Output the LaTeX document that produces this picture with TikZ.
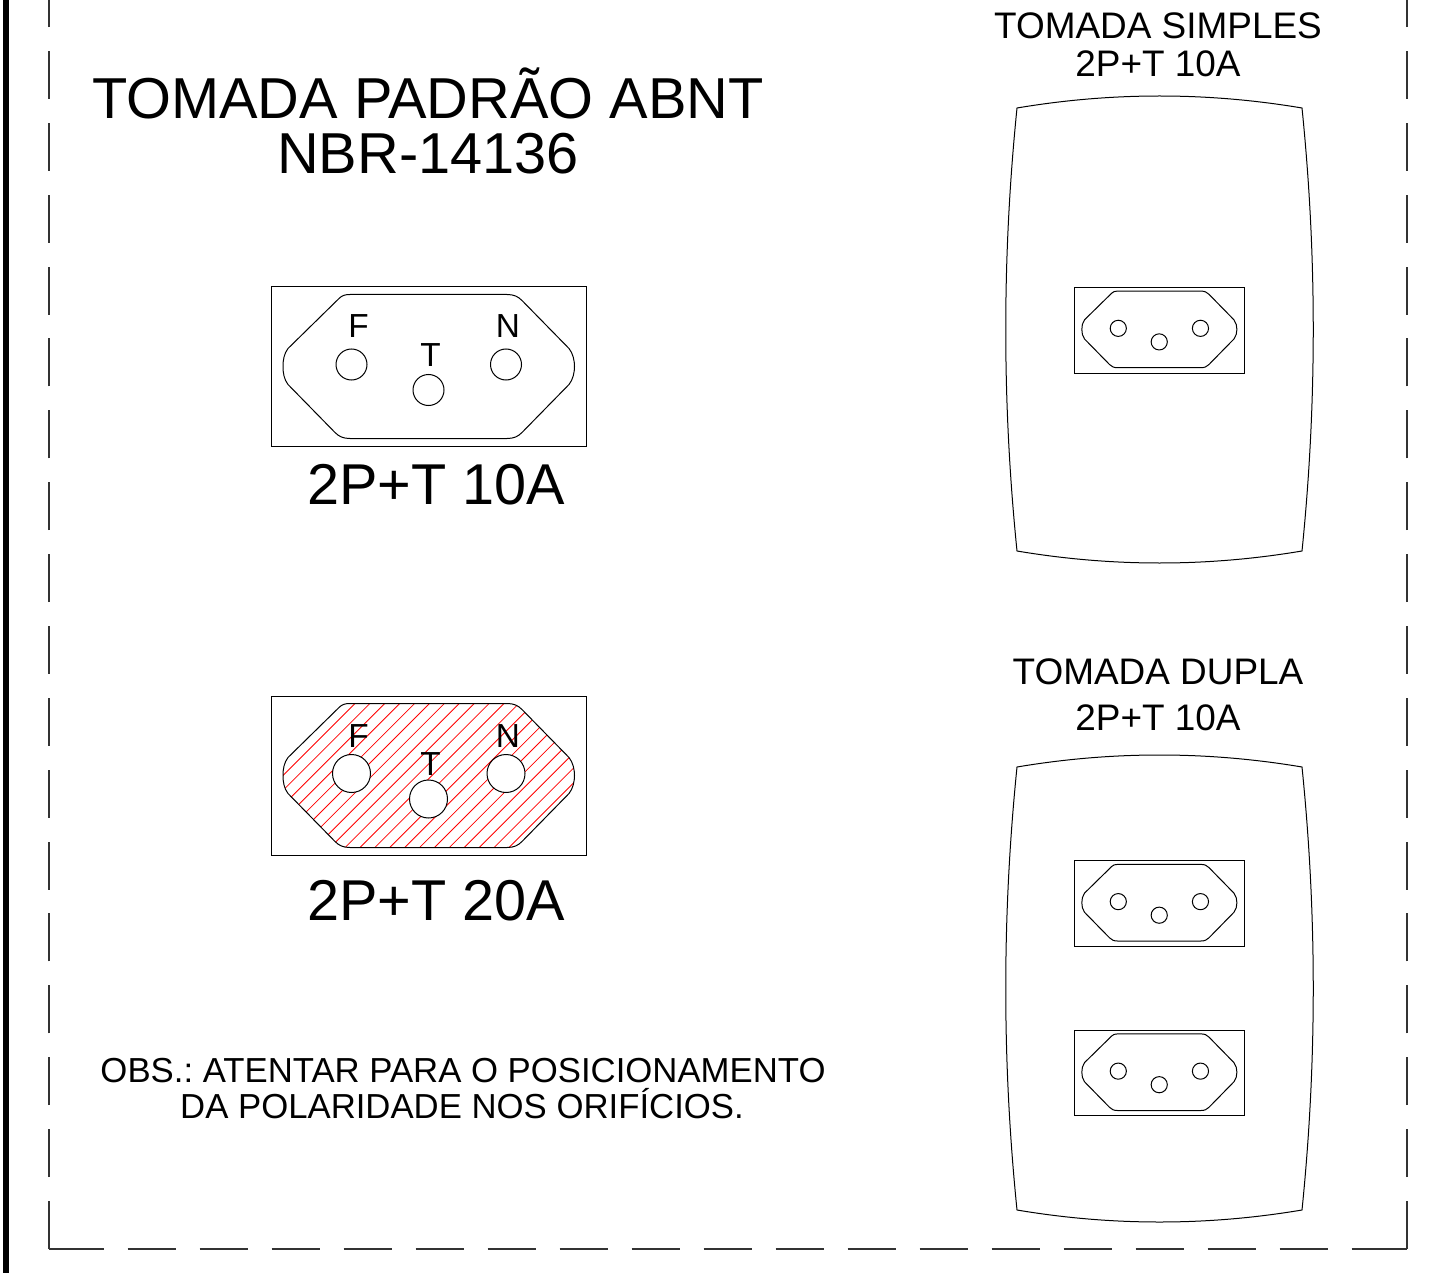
\documentclass[tikz,border=0pt]{standalone}
\usepackage{fontspec}
\setmainfont{Liberation Sans}
\frenchspacing
\newcommand{\fs}[1]{\fontsize{#1}{#1}\selectfont}
\newcommand{\socketpath}{
  (-79,-72) -- (78,-72)
  .. controls (85,-72) and (89,-70) .. (93,-66)
  -- (140,-18) .. controls (144,-13) and (145.5,-6) .. (145.5,0)
  .. controls (145.5,6) and (144,13) .. (140,18)
  -- (93,66) .. controls (89,70) and (85,72) .. (78,72)
  -- (-79,72) .. controls (-86,72) and (-90,70) .. (-94,66)
  -- (-141,18) .. controls (-145,13) and (-146,6) .. (-146,0)
  .. controls (-146,-6) and (-145,-13) .. (-141,-18)
  -- (-90,-68) .. controls (-87,-71) and (-84,-72) .. (-79,-72) -- cycle
}
\tikzset{
  px/.style={x=0.75pt,y=-0.75pt},
  line/.style={draw=black,line width=0.75pt},
  border/.style={draw=black!80,line width=0.8pt,dash pattern=on 36pt off 18pt},
  bordersolid/.style={draw=black!80,line width=0.8pt},
  hatchline/.style={draw=red,line width=0.6pt},
  label/.style={inner sep=0pt,anchor=base,text=black},
}
% #1 centre x, #2 centre y, #3 scale of the box, #4 hole radius, #5 scale of the inside, #6 shift of the inside
\newcommand{\socket}[6]{%
  \begin{scope}[shift={(#1*0.75pt,-#2*0.75pt)},x=#3*0.75pt,y=-#3*0.75pt]
    \draw[line] (-157.5,-79.5) rectangle (157.5,79.5);
    \begin{scope}[yshift=-#6*0.75pt,scale=#5]
    \draw[line] \socketpath;
    \draw[line,fill=white] (-77.5,-2) circle [radius=#4];
    \draw[line,fill=white] (-0.5,23.5) circle [radius=#4];
    \draw[line,fill=white] (77,-2) circle [radius=#4];
    \end{scope}
  \end{scope}}
% #1 y of the plate's upper corners
\newcommand{\plate}[1]{%
  \begin{scope}[yshift=-#1*0.75pt]
  \draw[line] (1017,0)
    .. controls (1112,-16) and (1207,-16) .. (1302,0)
    .. controls (1317,148) and (1317,295) .. (1302,443)
    .. controls (1207,459) and (1112,459) .. (1017,443)
    .. controls (1002,295) and (1002,148) .. (1017,0) -- cycle;
  \end{scope}}
\begin{document}
\begin{tikzpicture}[px]
\useasboundingbox (0,0) rectangle (1439,1273);
\fill[white] (0,0) rectangle (1439,1273);
% sheet frame
\fill[black] (3.3,0) rectangle (8.7,1273);
\coordinate (bl) at (49,1249);
\coordinate (br) at (1407,1249);
\coordinate (tl) at (49,0);
\coordinate (tr) at (1407,0);
\coordinate (bs) at (127.5,1249);
\coordinate (be) at (104,1249);
\coordinate (bq) at (1351.5,1249);
\coordinate (bp) at (1329,1249);
\draw[border,dash pattern=on 36pt off 17.91pt] (bl) -- (tl);
\draw[border,dash pattern=on 36pt off 17.91pt] (br) -- (tr);
\draw[border] (bs) -- (bp);
\draw[bordersolid] (bl) -- (be);
\draw[bordersolid] (bq) -- (br);
% title
\node[label,font=\fs{43.3}] (title1) at (428,119) {TOMADA PADRÃO ABNT};
\node[label,font=\fs{43.3}] (title2) at (428,174) {NBR-14136};
% 10 A
\socket{429}{366.5}{1}{15.5}{1}{0}
\node[label,font=\fs{25}] (f1) at (358.5,338) {F};
\node[label,font=\fs{25}] (t1) at (430.5,366) {T};
\node[label,font=\fs{25}] (n1) at (508,338) {N};
\node[label,font=\fs{43.2}] (cap1) at (436,504) {2P+T 10A};
% 20 A hatch
\begin{scope}[shift={(429*0.75pt,-775.5*0.75pt)}]
  \begin{scope}
    \clip \socketpath;
    \foreach \k in {-22,...,22} {
      \draw[hatchline] (\k*14.9-197,200) -- (\k*14.9+203,-200);
    }
  \end{scope}
\end{scope}
\socket{429}{775.5}{1}{19}{1}{0}
\node[label,font=\fs{25}] (f2) at (358.5,747) {F};
\node[label,font=\fs{25}] (t2) at (430.5,775) {T};
\node[label,font=\fs{25}] (n2) at (508,747) {N};
\node[label,font=\fs{43.2}] (cap2) at (436,920) {2P+T 20A};
% note
\node[label,font=\fs{26.05}] (obs1) at (463,1082) {OBS.: ATENTAR PARA O POSICIONAMENTO};
\node[label,font=\fs{26.05}] (obs2) at (462,1118) {DA POLARIDADE NOS ORIFÍCIOS.};
% plates
\node[label,font=\fs{27.7}] (ps1) at (1158,39) {TOMADA SIMPLES};
\node[label,font=\fs{27.7}] (ps2) at (1158,77) {2P+T 10A};
\plate{108}
\socket{1159.5}{330.2}{0.54}{15.2}{0.985}{-0.8}
\node[label,font=\fs{27.7}] (pd1) at (1158,684) {TOMADA DUPLA};
\node[label,font=\fs{27.7}] (pd2) at (1158,730) {2P+T 10A};
\plate{767}
\socket{1159.5}{903.5}{0.54}{15.2}{0.985}{-0.8}
\socket{1159.5}{1073}{0.54}{15.2}{0.985}{-0.8}
\end{tikzpicture}
\end{document}
